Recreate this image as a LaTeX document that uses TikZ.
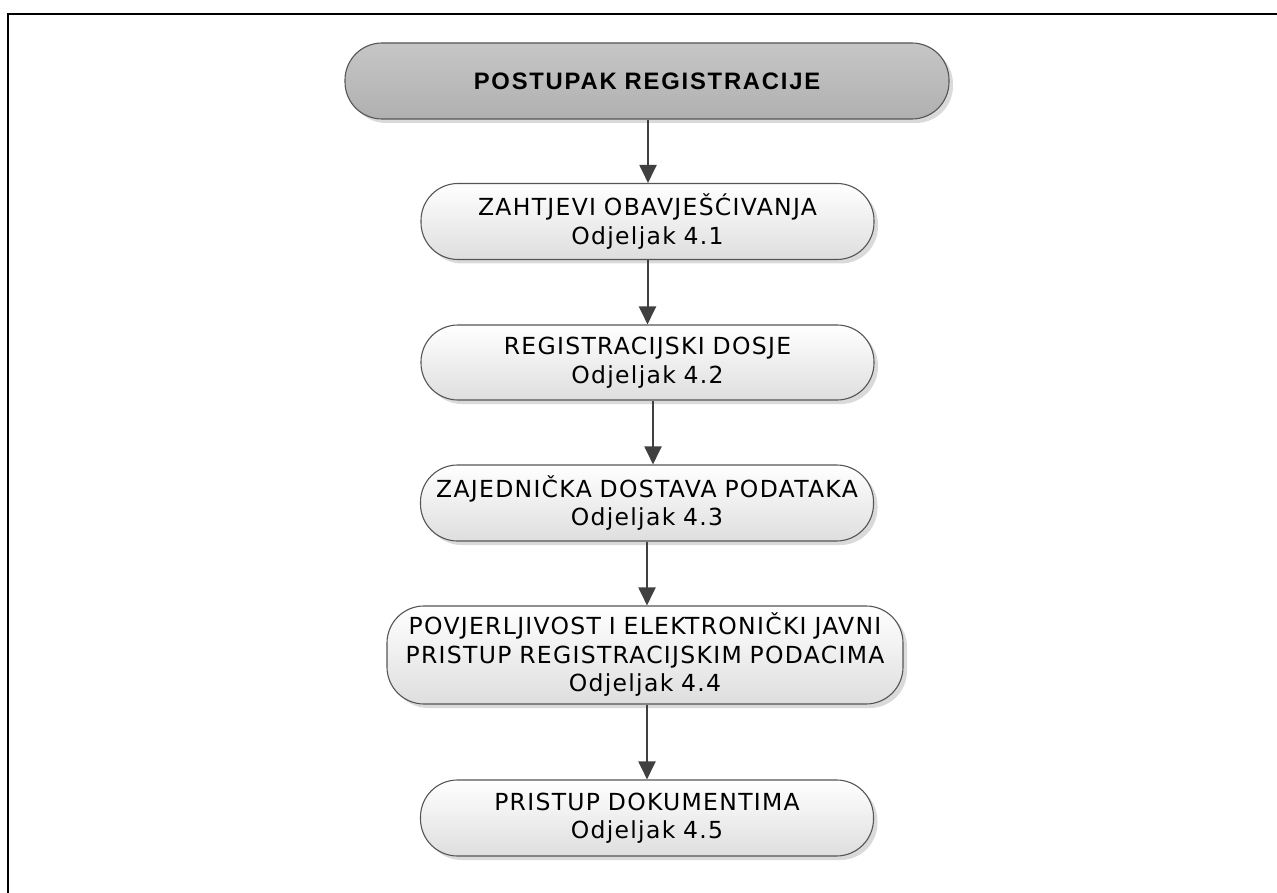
\documentclass[tikz,border=0pt]{standalone}
\usepackage{fontspec}
\usetikzlibrary{arrows.meta,shadows,calc}
\newfontfamily\boxfont[LetterSpace=5.5]{DejaVu Sans}
\newfontfamily\titlefont[LetterSpace=7.5]{Liberation Sans}
\definecolor{edgegray}{HTML}{555555}
\definecolor{arrowgray}{HTML}{404040}
\definecolor{titletop}{HTML}{C6C6C6}
\definecolor{titlebottom}{HTML}{B0B0B0}
\definecolor{boxbottom}{HTML}{DEDEDE}
\definecolor{shadowgray}{HTML}{DADADA}
\begin{document}
\begin{tikzpicture}[x=1pt,y=-1pt,
  pill/.style={draw=edgegray, line width=1.1pt, rounded corners=37pt,
    drop shadow={shadow xshift=4pt, shadow yshift=-4pt, fill=shadowgray, opacity=1},
    inner xsep=0pt, inner ysep=0pt, align=center},
  stepbox/.style={pill, top color=white, bottom color=boxbottom,
    text width=453pt, minimum height=76pt,
    font=\boxfont\fontsize{23.5}{28.5}\selectfont},
  titlebox/.style={pill, top color=titletop, bottom color=titlebottom,
    text width=604pt, minimum height=76pt,
    font=\titlefont\bfseries\fontsize{23.8}{28}\selectfont},
  flow/.style={draw=arrowgray, line width=2pt,
    -{Triangle[length=18pt,width=17pt]}, arrowgray}]
  \useasboundingbox (0,0) rectangle (1277,893);
  % page frame (only top and left edges fall inside the sheet)
  \draw[line width=2pt] (8.2,900) -- (8.2,14.3) -- (1290,14.3);

  \node[titlebox] (t) at (647,81) {POSTUPAK REGISTRACIJE};
  \node[stepbox] (b1) at (647.5,221.5) {ZAHTJEVI OBAVJEŠĆIVANJA\\Odjeljak 4.1};
  \node[stepbox, minimum height=75pt] (b2) at (647.5,362.5) {REGISTRACIJSKI DOSJE\\Odjeljak 4.2};
  \node[stepbox] (b3) at (647,503) {ZAJEDNIČKA DOSTAVA PODATAKA\\Odjeljak 4.3};
  \node[stepbox, text width=516pt, minimum height=98pt] (b4) at (645,655)
    {POVJERLJIVOST I ELEKTRONIČKI JAVNI\\PRISTUP REGISTRACIJSKIM PODACIMA\\Odjeljak 4.4};
  \node[stepbox] (b5) at (647,818) {PRISTUP DOKUMENTIMA\\Odjeljak 4.5};

  \draw[flow] ($(t.south)+(1,0)$) -- ($(b1.north)+(0.5,0)$);
  \draw[flow] (b1.south) -- (b2.north);
  \draw[flow] ($(b2.south)+(5.5,0)$) -- ($(b3.north)+(6,0)$);
  \draw[flow] (b3.south) -- ($(b4.north)+(2,0)$);
  \draw[flow] ($(b4.south)+(2,0)$) -- (b5.north);
\end{tikzpicture}
\end{document}
